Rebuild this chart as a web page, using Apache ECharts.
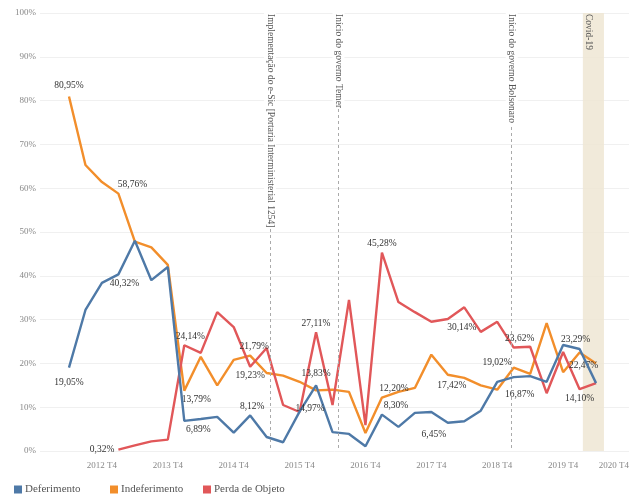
<!DOCTYPE html>
<html>
<head>
<meta charset="utf-8">
<script src="https://cdn.jsdelivr.net/npm/echarts@6/dist/echarts.min.js"></script>
<style>
  html, body { margin: 0; padding: 0; background: #fff; }
  #chart { width: 632px; height: 500px; }
</style>
</head>
<body>
<div id="chart"></div>
<script>
// Quarterly share of request outcomes, 2012 T2 – 2020 T2
const periods = [
  '2012 T2','2012 T3','2012 T4',
  '2013 T1','2013 T2','2013 T3','2013 T4',
  '2014 T1','2014 T2','2014 T3','2014 T4',
  '2015 T1','2015 T2','2015 T3','2015 T4',
  '2016 T1','2016 T2','2016 T3','2016 T4',
  '2017 T1','2017 T2','2017 T3','2017 T4',
  '2018 T1','2018 T2','2018 T3','2018 T4',
  '2019 T1','2019 T2','2019 T3','2019 T4',
  '2020 T1','2020 T2'
];

const deferimento = [
  19.05, 32.2, 38.4,
  40.32, 48.0, 39.0, 42.0,
  6.89, 7.3, 7.8, 4.2,
  8.12, 3.2, 2.0, 9.0,
  14.97, 4.3, 3.9, 1.1,
  8.30, 5.5, 8.7, 8.9,
  6.45, 6.8, 9.2, 15.8,
  16.87, 17.1, 15.8, 24.2,
  23.29, 15.5
];

const indeferimento = [
  80.95, 65.3, 61.4,
  58.76, 47.8, 46.5, 42.5,
  13.79, 21.5, 15.0, 20.8,
  21.79, 17.8, 17.2, 15.8,
  13.83, 14.0, 13.5, 4.1,
  12.20, 13.5, 14.4, 22.0,
  17.42, 16.7, 15.0, 14.0,
  19.02, 17.6, 29.2, 18.0,
  22.47, 20.0
];

const perdaDeObjeto = [
  null, null, null,
  0.32, 1.3, 2.2, 2.6,
  24.14, 22.4, 31.7, 28.3,
  19.23, 23.5, 10.5, 8.9,
  27.11, 10.5, 34.5, 5.9,
  45.28, 34.0, 31.7, 29.5,
  30.14, 32.8, 27.2, 29.5,
  23.62, 23.8, 13.2, 22.6,
  14.10, 15.5
];

const tickLabels = ['2012 T4','2013 T4','2014 T4','2015 T4','2016 T4','2017 T4','2018 T4','2019 T4','2020 T4'];

// Reference events, positioned in quarters counted from 2012 T1
const events = [
  { name: 'Implementação do e-Sic [Portaria Interministerial 1254]', at: 13.21 },
  { name: 'Início do governo Temer', at: 17.36 },
  { name: 'Início do governo Bolsonaro', at: 27.88 }
];
const covid = { name: 'Covid-19', from: 32.2, to: 33.48 };

// ---- helpers ----
function quarterIndex(label) {
  const [y, q] = label.split(' T');
  return (Number(y) - 2012) * 4 + (Number(q) - 1);
}
function labelOfIndex(i) {
  const y = 2012 + Math.floor(i / 4);
  const q = (i % 4) + 1;
  return y + ' T' + q;
}
const fmtPct = v => v.toFixed(2).replace('.', ',') + '%';

const COLORS = { def: '#4e79a7', ind: '#f28e2b', perda: '#e15759' };
const SERIF = 'Liberation Serif, DejaVu Serif, serif';

// label placement for the annotated points (keyed by period)
const labelPlacement = {
  'Deferimento': {
    '2012 T2': { position: 'bottom', offset: [0, 6] },
    '2013 T1': { position: 'bottom', offset: [6, 0] },
    '2014 T1': { position: 'bottom', offset: [14, 0] },
    '2015 T1': { position: 'top', offset: [2, 0] },
    '2016 T1': { position: 'bottom', offset: [-6, 14] },
    '2017 T1': { position: 'top', offset: [14, 0] },
    '2018 T1': { position: 'bottom', offset: [-14, 3] },
    '2019 T1': { position: 'bottom', offset: [6, 8] },
    '2020 T1': { position: 'top', offset: [-4, 0] }
  },
  'Indeferimento': {
    '2012 T2': { position: 'top', offset: [0, -2] },
    '2013 T1': { position: 'top', offset: [14, 0] },
    '2014 T1': { position: 'bottom', offset: [12, 0] },
    '2015 T1': { position: 'top', offset: [4, 0] },
    '2016 T1': { position: 'top', offset: [0, -8] },
    '2017 T1': { position: 'top', offset: [12, 0] },
    '2018 T1': { position: 'bottom', offset: [4, 2] },
    '2019 T1': { position: 'left', offset: [2, -5] },
    '2020 T1': { position: 'bottom', offset: [4, 4] }
  },
  'Perda de Objeto': {
    '2013 T1': { position: 'left', offset: [0, 0] },
    '2014 T1': { position: 'top', offset: [6, 0] },
    '2015 T1': { position: 'bottom', offset: [0, 0] },
    '2016 T1': { position: 'top', offset: [0, 0] },
    '2017 T1': { position: 'top', offset: [0, 0] },
    '2018 T1': { position: 'bottom', offset: [14, 0] },
    '2019 T1': { position: 'top', offset: [6, 0] },
    '2020 T1': { position: 'bottom', offset: [0, 0] }
  }
};

function buildData(name, values) {
  const place = labelPlacement[name];
  return values.map((v, k) => {
    const x = quarterIndex(periods[k]);
    const item = { value: [x, v] };
    const p = place[periods[k]];
    if (p && v != null) {
      item.label = { show: true, position: p.position, offset: p.offset };
    }
    return item;
  });
}

function lineSeries(name, values, color, extra) {
  return Object.assign({
    name,
    type: 'line',
    data: buildData(name, values),
    connectNulls: false,
    symbol: 'circle',
    symbolSize: 0,
    showSymbol: true,
    lineStyle: { color, width: 2.4 },
    itemStyle: { color },
    label: {
      show: false,
      formatter: p => fmtPct(p.value[1]),
      color: '#333',
      fontFamily: SERIF,
      fontSize: 9.5,
      distance: 4
    },
    emphasis: { disabled: true },
    z: 3
  }, extra || {});
}

const eventLines = events.map(e => ([
  { coord: [e.at, 100], name: e.name },
  { coord: [e.at, 0] }
]));

const chart = echarts.init(document.getElementById('chart'), null, { renderer: 'canvas' });

chart.setOption({
  animation: false,
  backgroundColor: '#fff',
  textStyle: { fontFamily: SERIF },
  grid: { left: 40, right: 0, top: 13, bottom: 49 },
  xAxis: {
    type: 'value',
    min: -0.76,
    max: 35,
    axisLine: { show: false },
    axisTick: { show: false },
    splitLine: { show: false },
    axisLabel: {
      customValues: tickLabels.map(quarterIndex),
      formatter: v => labelOfIndex(Math.round(v)),
      color: '#888',
      fontFamily: SERIF,
      fontSize: 9,
      margin: 10,
      alignMaxLabel: 'right'
    }
  },
  yAxis: {
    type: 'value',
    min: 0,
    max: 100,
    interval: 10,
    axisLine: { show: false },
    axisTick: { show: false },
    splitLine: { lineStyle: { color: '#f0f0f0', width: 1 } },
    axisLabel: {
      formatter: '{value}%',
      color: '#888',
      fontFamily: SERIF,
      fontSize: 9,
      margin: 4
    }
  },
  legend: [
    { name: 'Deferimento', left: 9 },
    { name: 'Indeferimento', left: 105 },
    { name: 'Perda de Objeto', left: 198 }
  ].map(l => ({
    data: [l.name],
    left: l.left,
    bottom: 0,
    icon: 'rect',
    itemWidth: 8,
    itemHeight: 8,
    itemGap: 0,
    textStyle: { color: '#555', fontFamily: SERIF, fontSize: 11, padding: [0, 0, 0, -2] }
  })),
  series: [
    lineSeries('Deferimento', deferimento, COLORS.def, {
      z: 4,
      markArea: {
        silent: true,
        itemStyle: { color: '#efe6d4', opacity: 0.85 },
        data: [[{ xAxis: covid.from }, { xAxis: covid.to }]],
        z: 1
      },
      markLine: {
        silent: true,
        symbol: ['none', 'none'],
        lineStyle: { color: '#aaa', type: [3, 3], width: 1 },
        label: {
          show: true,
          position: 'insideStart',
          formatter: '{b}',
          color: '#555',
          fontFamily: SERIF,
          fontSize: 9.5,
          backgroundColor: '#fff',
          padding: [1, 1, 1, 1],
          distance: 0
        },
        data: eventLines.concat([[
          { coord: [covid.from + 0.35, 100], name: covid.name,
            lineStyle: { color: 'rgba(0,0,0,0)', width: 1 },
            label: { backgroundColor: 'rgba(0,0,0,0)' } },
          { coord: [covid.from + 0.35, 0] }
        ]])
      }
    }),
    lineSeries('Indeferimento', indeferimento, COLORS.ind, { z: 3 }),
    lineSeries('Perda de Objeto', perdaDeObjeto, COLORS.perda, { z: 3 })
  ]
});
</script>
</body>
</html>
